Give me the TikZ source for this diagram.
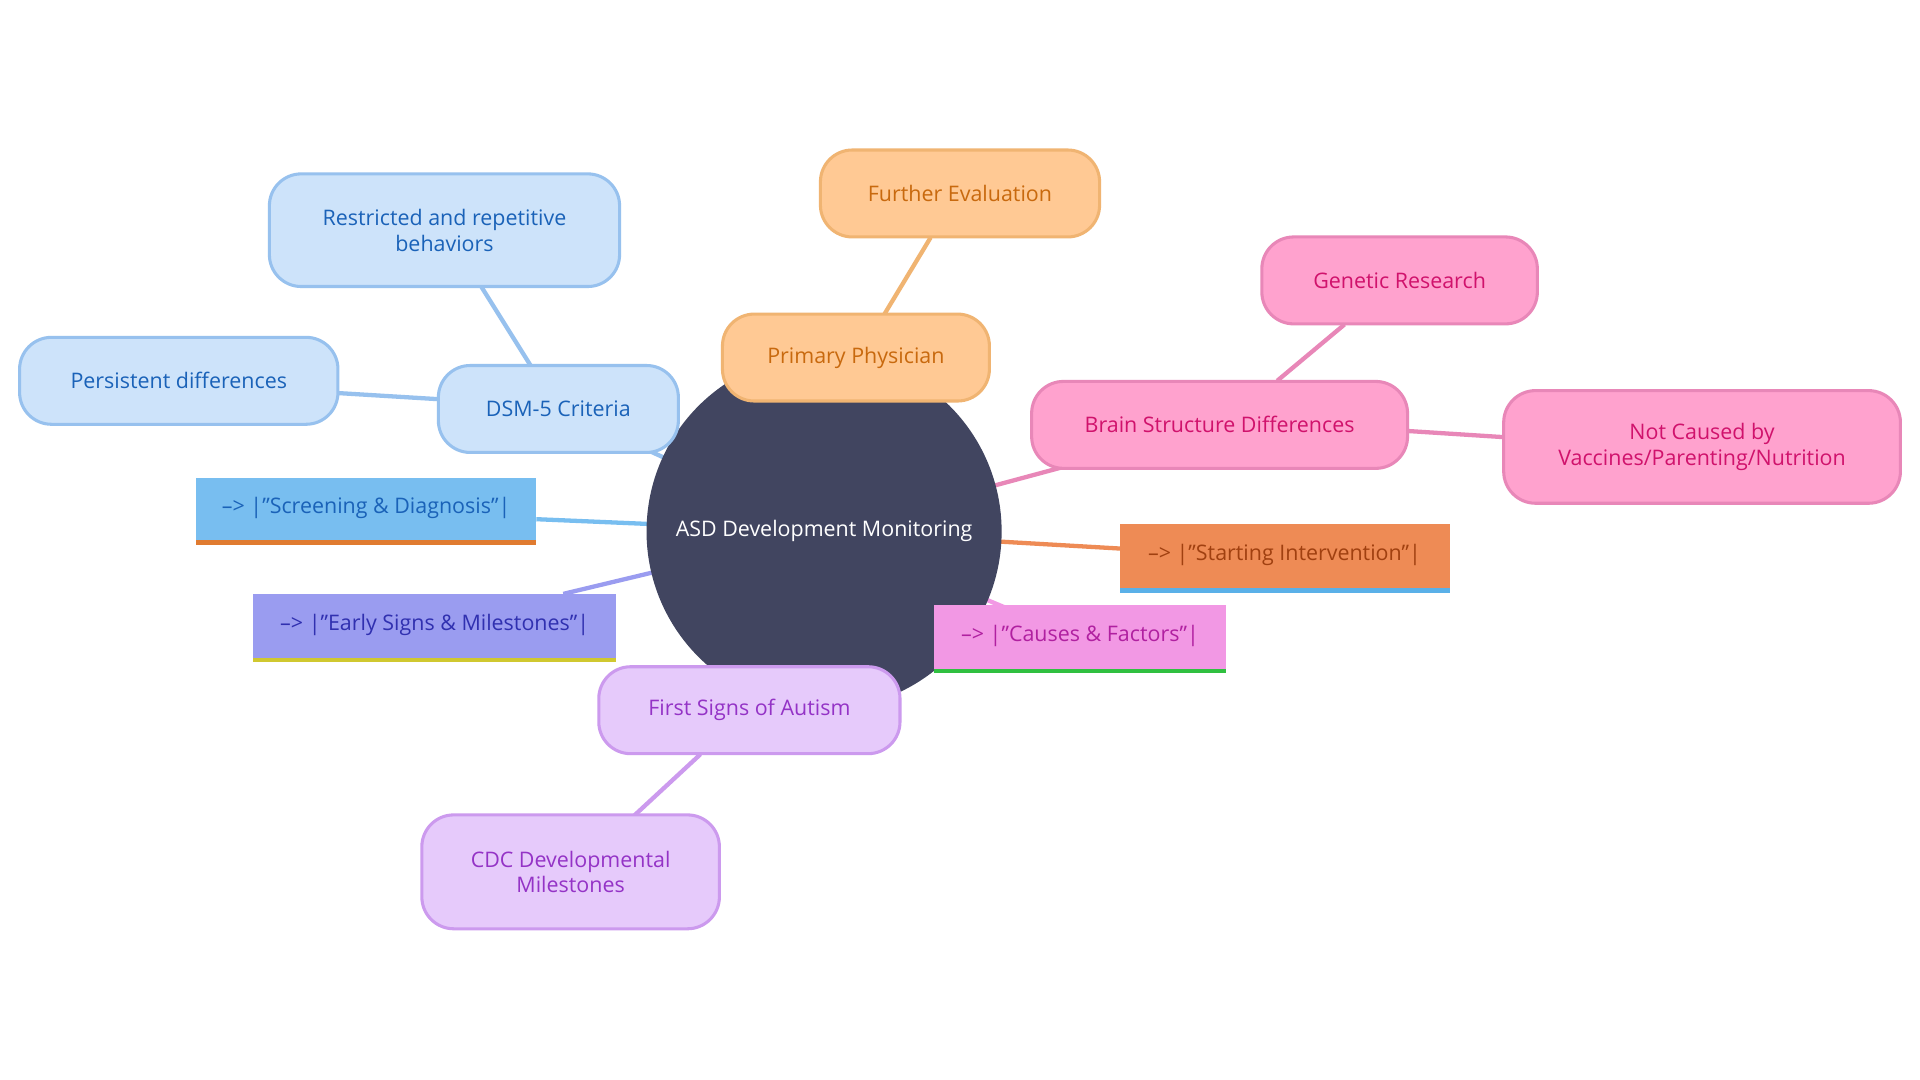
\documentclass[tikz,border=0pt]{standalone}
\usepackage{fontspec}
\setmainfont{Open Sans}
\begin{document}
\begin{tikzpicture}[x=1pt,y=-1pt,
 base/.style={line width=2.5pt,rounded corners=26pt,align=center,inner sep=0pt,font=\fontsize{17.5}{21}\selectfont},
 blue/.style={base,fill=bfill,draw=bdraw,text=btext},
 orange/.style={base,fill=ofill,draw=odraw,text=otext},
 pink/.style={base,fill=pfill,draw=pdraw,text=ptext},
 purp/.style={base,fill=ufill,draw=udraw,text=utext},
 flag/.style={inner sep=0pt,font=\fontsize{17.5}{21}\selectfont},
 ln/.style={line width=3.5pt}]
\definecolor{bfill}{HTML}{CDE3FA}\definecolor{bdraw}{HTML}{97C1EE}\definecolor{btext}{HTML}{1A62B8}
\definecolor{ofill}{HTML}{FFC994}\definecolor{odraw}{HTML}{F0B472}\definecolor{otext}{HTML}{C8690E}
\definecolor{pfill}{HTML}{FFA2CE}\definecolor{pdraw}{HTML}{E887B8}\definecolor{ptext}{HTML}{D0126C}
\definecolor{ufill}{HTML}{E6CAFB}\definecolor{udraw}{HTML}{CC9AEE}\definecolor{utext}{HTML}{9433C6}
\definecolor{core}{HTML}{414560}
\definecolor{f1}{RGB}{120,190,240}\definecolor{u1}{RGB}{224,123,48}
\definecolor{f2}{RGB}{154,156,240}\definecolor{u2}{RGB}{208,200,48}\definecolor{t2}{RGB}{48,48,176}
\definecolor{f3}{RGB}{238,139,85}\definecolor{u3}{RGB}{90,176,232}\definecolor{t3}{RGB}{160,64,16}
\definecolor{f4}{RGB}{242,152,228}\definecolor{u4}{RGB}{48,192,64}\definecolor{t4}{RGB}{176,32,160}
\useasboundingbox[fill=white] (0,0) rectangle (1568,882);
% edges
\draw[ln,draw=odraw] (673,434)--(699,292);
\draw[ln,draw=odraw] (722,257)--(760,194);
\draw[ln,draw=bdraw] (673,434)--(456,334);
\draw[ln,draw=bdraw] (433,298)--(393,234);
\draw[ln,draw=bdraw] (358,326)--(276,321);
\draw[ln,draw=pdraw] (673,434)--(996,347);
\draw[ln,draw=pdraw] (1043,311)--(1098,265);
\draw[ln,draw=pdraw] (1150,352)--(1228,357);
\draw[ln,draw=udraw] (673,434)--(612,580);
\draw[ln,draw=udraw] (572,616)--(518,666);
\draw[ln,draw=f1] (438,424)--(673,434);
\draw[ln,draw=f2] (460,485)--(673,434);
\draw[ln,draw=f3] (673,434)--(915,448);
\draw[ln,draw=f4] (673,434)--(830,500);
% center
\node[circle,fill=core,minimum size=290pt,inner sep=0pt,text=white,font=\fontsize{17.5}{21}\selectfont] (c) at (673,434) {ASD Development Monitoring};
% nodes
\node[orange,minimum width=228pt,minimum height=71pt] (fe) at (784,158) {Further Evaluation};
\node[orange,minimum width=218pt,minimum height=71pt] (pp) at (699,292) {Primary Physician};
\node[blue,minimum width=286pt,minimum height=92pt] (rr) at (363,188) {Restricted and repetitive\\behaviors};
\node[blue,minimum width=260pt,minimum height=71pt] (pd) at (146,311) {Persistent differences};
\node[blue,minimum width=196pt,minimum height=71pt] (dsm) at (456,334) {DSM-5 Criteria};
\node[pink,minimum width=225pt,minimum height=71pt] (gr) at (1143,229) {Genetic Research};
\node[pink,minimum width=307pt,minimum height=71pt] (bs) at (996,347) {Brain Structure Differences};
\node[pink,minimum width=324pt,minimum height=92pt] (nc) at (1390,365) {Not Caused by\\Vaccines/Parenting/Nutrition};
\node[purp,minimum width=246pt,minimum height=71pt] (fs) at (612,580) {First Signs of Autism};
\node[purp,minimum width=243pt,minimum height=93pt] (cdc) at (466,712) {CDC Developmental\\Milestones};
% flags
\fill[f1] (160,390) rectangle (438,444);
\fill[u1] (160,441) rectangle (438,445);
\node[flag,text=btext] (sd) at (299,415) {–> |"Screening \& Diagnosis"|};
\fill[f2] (207,485) rectangle (503,540);
\fill[u2] (207,537) rectangle (503,541);
\node[flag,text=t2] (es) at (355,510) {–> |"Early Signs \& Milestones"|};
\fill[f3] (915,428) rectangle (1184,483);
\fill[u3] (915,480) rectangle (1184,484);
\node[flag,text=t3] (si) at (1049,453) {–> |"Starting Intervention"|};
\fill[f4] (763,494) rectangle (1001,549);
\fill[u4] (763,546) rectangle (1001,550);
\node[flag,text=t4] (cf) at (882,519) {–> |"Causes \& Factors"|};
\end{tikzpicture}
\end{document}
